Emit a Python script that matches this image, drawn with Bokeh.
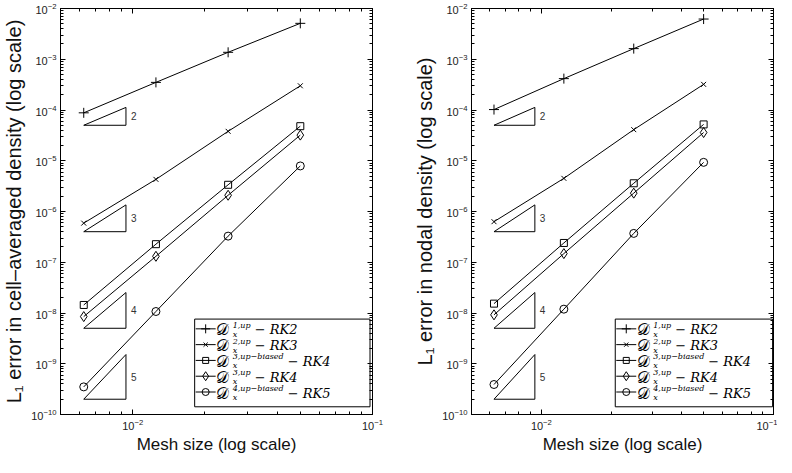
import math
from bokeh.plotting import figure
from bokeh.models import LogAxis, FixedTicker, Label, ColumnDataSource, Range1d
from bokeh.layouts import row
from bokeh.embed import file_html
from bokeh.resources import INLINE
from bokeh.core.properties import value

# ---------------- data ----------------
mesh_size = [0.00625, 0.0125, 0.025, 0.05]

cell_d1_rk2 = [8.8e-5, 3.5e-4, 1.37e-3, 5.1e-3]
cell_d2_rk3 = [5.9e-7, 4.3e-6, 3.8e-5, 3.0e-4]
cell_d3b_rk4 = [1.44e-8, 2.27e-7, 3.36e-6, 4.8e-5]
cell_d3_rk4 = [8.5e-9, 1.31e-7, 2.09e-6, 3.2e-5]
cell_d4b_rk5 = [3.5e-10, 1.07e-8, 3.27e-7, 7.9e-6]

nodal_d1_rk2 = [1.02e-4, 4.15e-4, 1.62e-3, 6.2e-3]
nodal_d2_rk3 = [6.3e-7, 4.5e-6, 4.1e-5, 3.2e-4]
nodal_d3b_rk4 = [1.53e-8, 2.4e-7, 3.6e-6, 5.2e-5]
nodal_d3_rk4 = [9.2e-9, 1.48e-7, 2.3e-6, 3.6e-5]
nodal_d4b_rk5 = [3.9e-10, 1.19e-8, 3.7e-7, 9.3e-6]

series_sup = ["1,up", "2,up", "3,up\u2212biased", "3,up", "4,up\u2212biased"]
series_scheme = ["RK2", "RK3", "RK4", "RK4", "RK5"]
series_marker = ["cross", "x", "square", "diamond", "circle"]

slope_orders = [2, 3, 4, 5]
slope_base_y = [5e-5, 4e-7, 5e-9, 2e-10]
slope_base_x = 0.00625
slope_ratio = 1.5

x_bounds = (0.005, 0.1)
y_bounds = (1e-10, 1e-2)
x_major = [1e-3, 1e-2, 1e-1]
y_major = [10.0 ** e for e in range(-10, -1)]
x_minor = [m * 10.0 ** e for e in (-3, -2) for m in range(2, 10)]
y_minor = [m * 10.0 ** e for e in range(-10, -2) for m in range(2, 10)]

# ---------------- style ----------------
FH = 406
LX0, LX1 = math.log10(x_bounds[0]), math.log10(x_bounds[1])
LY0, LY1 = math.log10(y_bounds[0]), math.log10(y_bounds[1])
marker_size = {"cross": 10, "x": 7, "square": 7, "diamond": 10, "circle": 8}
SANS = "Liberation Sans"
SERIF = "DejaVu Serif"


def style_axis(ax, labels=True):
    ax.axis_line_color = "black"
    ax.axis_line_width = 1
    ax.major_tick_line_color = "black"
    ax.minor_tick_line_color = "black"
    ax.major_tick_in = 5
    ax.major_tick_out = 0
    ax.minor_tick_in = 3
    ax.minor_tick_out = 0
    if labels:
        ax.major_label_text_font = SANS
        ax.major_label_text_font_size = "11px"
        ax.major_label_text_color = "#222222"
        ax.axis_label_text_font = SANS
        ax.axis_label_text_font_style = "normal"
        ax.axis_label_text_color = "#111111"
    else:
        ax.major_label_text_color = None
        ax.major_label_text_font_size = "0px"
        ax.major_label_standoff = 0


def make_panel(series, ylabel, frame_w, border_l, border_r, box_lr):
    p = figure(frame_width=frame_w, frame_height=FH,
               x_axis_type="log", y_axis_type="log",
               x_range=Range1d(*x_bounds), y_range=Range1d(*y_bounds),
               output_backend="svg", toolbar_location=None,
               min_border_left=border_l, min_border_right=border_r,
               min_border_top=8, min_border_bottom=43)
    p.grid.visible = False
    p.outline_line_color = "black"
    p.outline_line_width = 1

    p.xaxis.ticker = FixedTicker(ticks=x_major, minor_ticks=x_minor)
    p.yaxis.ticker = FixedTicker(ticks=y_major, minor_ticks=y_minor)
    for ax in p.xaxis + p.yaxis:
        style_axis(ax)
    p.xaxis.axis_label = "Mesh size (log scale)"
    p.yaxis.axis_label = ylabel
    p.xaxis.axis_label_text_font_size = "17px"
    p.yaxis.axis_label_text_font_size = "20px"
    p.xaxis.major_label_standoff = 4
    p.xaxis.axis_label_standoff = 2
    p.yaxis.major_label_standoff = 4
    p.yaxis.axis_label_standoff = 3

    top = LogAxis(ticker=FixedTicker(ticks=x_major, minor_ticks=x_minor))
    style_axis(top, labels=False)
    p.add_layout(top, "above")
    right = LogAxis(ticker=FixedTicker(ticks=y_major, minor_ticks=y_minor))
    style_axis(right, labels=False)
    p.add_layout(right, "right")

    # data series
    for vals, mk in zip(series, series_marker):
        p.line(mesh_size, vals, line_color="black", line_width=1)
        p.scatter(mesh_size, vals, marker=mk, size=marker_size[mk],
                  fill_color=None, line_color="black", line_width=1)

    # slope triangles
    for order, y0 in zip(slope_orders, slope_base_y):
        x1 = slope_base_x * slope_ratio
        y1 = y0 * slope_ratio ** order
        p.line([slope_base_x, x1, x1, slope_base_x], [y0, y0, y1, y0],
               line_color="black", line_width=1)
    tri_src = ColumnDataSource(dict(
        x=[slope_base_x * slope_ratio * 1.05] * len(slope_orders),
        y=[y0 * slope_ratio ** (o / 2) for o, y0 in zip(slope_orders, slope_base_y)],
        t=[str(o) for o in slope_orders]))
    p.text(x="x", y="y", text="t", source=tri_src, text_font=value(SANS),
           text_font_size="10px", text_color="#333333",
           text_baseline="middle", text_align="left")

    # legend
    def dx(px):
        return 10 ** (LX0 + px / frame_w * (LX1 - LX0))

    def dy(py):
        return 10 ** (LY1 - py / FH * (LY1 - LY0))

    bl = box_lr[0] * frame_w
    br = box_lr[1] * frame_w
    bt = 0.765 * FH
    bb = 0.981 * FH
    p.quad(left=[dx(bl)], right=[dx(br)], top=[dy(bt)], bottom=[dy(bb)],
           fill_color="white", line_color="black", line_width=1)
    for i, (sup, sch, mk) in enumerate(zip(series_sup, series_scheme, series_marker)):
        rc = FH * (0.789 + 0.0389 * i)
        p.line([dx(bl + 1), dx(bl + 21)], [dy(rc), dy(rc)], line_color="black", line_width=1)
        p.scatter([dx(bl + 11)], [dy(rc)], marker=mk, size=marker_size[mk] - 1,
                  fill_color=None, line_color="black", line_width=1)
        p.add_layout(Label(x=dx(bl + 21.5), y=dy(rc + 1), text="\U0001D49F",
                           text_font=SERIF, text_font_size="16px",
                           text_baseline="middle", text_align="left", text_color="black"))
        p.add_layout(Label(x=dx(bl + 38), y=dy(rc - 3.5), text=sup,
                           text_font=SERIF, text_font_style="italic", text_font_size="8px",
                           text_baseline="middle", text_align="left", text_color="black"))
        p.add_layout(Label(x=dx(bl + 38), y=dy(rc + 5.5), text="x",
                           text_font=SERIF, text_font_style="italic", text_font_size="8px",
                           text_baseline="middle", text_align="left", text_color="black"))
        w = 19 if len(sup) < 6 else 52
        p.add_layout(Label(x=dx(bl + 38 + w + 3), y=dy(rc + 1), text="\u2212 " + sch,
                           text_font=SERIF, text_font_style="italic", text_font_size="13px",
                           text_baseline="middle", text_align="left", text_color="black"))
    return p


p1 = make_panel([cell_d1_rk2, cell_d2_rk3, cell_d3b_rk4, cell_d3_rk4, cell_d4b_rk5],
                "L\u2081 error in cell\u2013averaged density (log scale)",
                312, 59, 16, (0.430, 0.992))
p2 = make_panel([nodal_d1_rk2, nodal_d2_rk3, nodal_d3b_rk4, nodal_d3_rk4, nodal_d4b_rk5],
                "L\u2081 error in nodal density (log scale)",
                302, 83, 4, (0.476, 0.997))

layout = row(p1, p2)
open("out.html", "w").write(file_html(layout, INLINE))
